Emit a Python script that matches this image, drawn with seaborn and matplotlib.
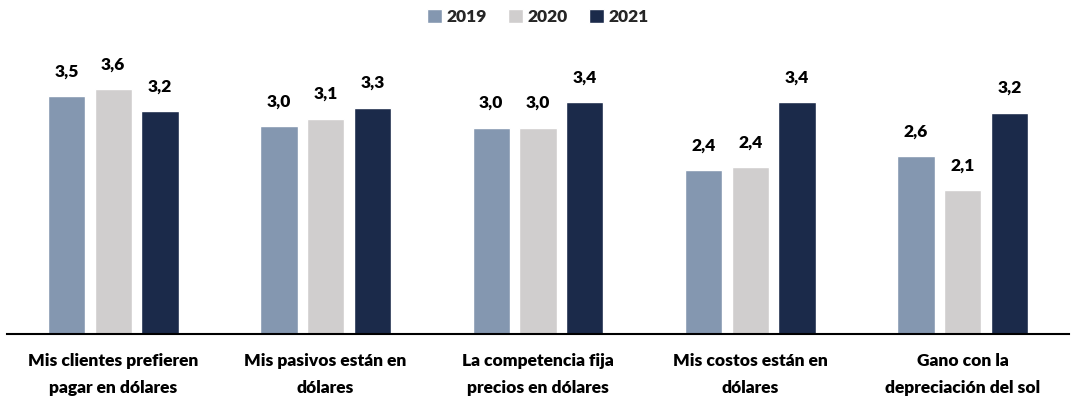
import matplotlib.pyplot as plt
import pandas as pd
import seaborn as sns

# Data (bar heights; labels as printed)
categories = [
    "Mis clientes prefieren\npagar en dólares",
    "Mis pasivos están en\ndólares",
    "La competencia fija\nprecios en dólares",
    "Mis costos están en\ndólares",
    "Gano con la\ndepreciación del sol",
]
years = ["2019", "2020", "2021"]
values_2019 = [3.45, 3.01, 2.99, 2.37, 2.58]
values_2020 = [3.55, 3.12, 2.99, 2.42, 2.08]
values_2021 = [3.23, 3.28, 3.36, 3.36, 3.21]
labels_2019 = ["3,5", "3,0", "3,0", "2,4", "2,6"]
labels_2020 = ["3,6", "3,1", "3,0", "2,4", "2,1"]
labels_2021 = ["3,2", "3,3", "3,4", "3,4", "3,2"]
colors = ["#8497B0", "#D0CECE", "#1B2A4A"]

df = pd.DataFrame({
    "Categoria": categories * 3,
    "Año": [y for y in years for _ in categories],
    "Valor": values_2019 + values_2020 + values_2021,
})

sns.set_theme(style="white")
plt.rcParams["font.family"] = ["Lato", "DejaVu Sans"]

fig = plt.figure(figsize=(10.76, 4.05), dpi=100)
ax = fig.add_axes([7 / 1076, 71 / 405, 1062 / 1076, 276 / 405])

sns.barplot(
    data=df, x="Categoria", y="Valor", hue="Año",
    palette=colors, saturation=1, width=0.66, gap=0.2, ax=ax, legend=True,
)

for container, labels in zip(ax.containers, [labels_2019, labels_2020, labels_2021]):
    ax.bar_label(container, labels=labels, padding=12, fontsize=12.5,
                 fontweight=800, color="black")

ax.set_ylim(0, 4.0)
ax.set_xlim(-0.5, len(categories) - 0.5)
ax.set_xlabel("")
ax.set_ylabel("")
ax.set_yticks([])
ax.tick_params(axis="x", length=0, pad=14)
for lbl in ax.get_xticklabels():
    lbl.set_fontsize(12.5)
    lbl.set_fontweight(800)
    lbl.set_linespacing(1.85)
    lbl.set_color("black")

for side in ["top", "right", "left"]:
    ax.spines[side].set_visible(False)
ax.spines["bottom"].set_color("black")
ax.spines["bottom"].set_linewidth(1.5)

ax.legend(
    loc="upper center", bbox_to_anchor=(0.5, 1.235), ncol=3, frameon=False,
    prop={"weight": 800, "size": 12.5}, handlelength=0.85, handleheight=0.85,
    handletextpad=0.3, columnspacing=1.2,
)

fig.savefig("out.png", dpi=100)
